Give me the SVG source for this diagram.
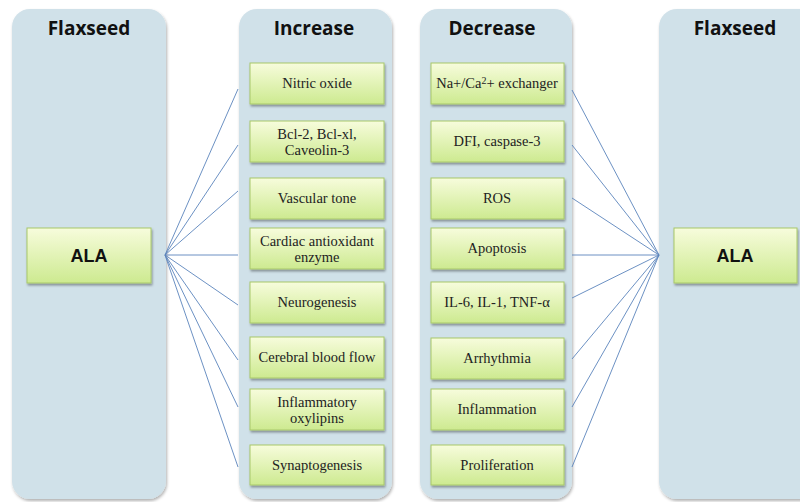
<svg xmlns="http://www.w3.org/2000/svg" width="800" height="502" viewBox="0 0 800 502">
<defs>
<linearGradient id="g" x1="0" y1="0" x2="0" y2="1">
<stop offset="0" stop-color="#F7FCDC"/>
<stop offset="1" stop-color="#CDEA90"/>
</linearGradient>
<filter id="sh" x="-10%" y="-10%" width="130%" height="130%">
<feDropShadow dx="1" dy="2" stdDeviation="1.5" flood-color="#000" flood-opacity="0.3"/>
</filter>
<filter id="sh2" x="-10%" y="-10%" width="130%" height="130%">
<feDropShadow dx="1" dy="2" stdDeviation="1" flood-color="#000" flood-opacity="0.35"/>
</filter>
</defs>
<style>
.panel{fill:#D0E1E9;filter:url(#sh)}
.box{fill:url(#g);stroke:#A8C86A;stroke-width:1;filter:url(#sh2)}
.title{font-family:"Open Sans","Liberation Sans",sans-serif;font-weight:bold;font-size:19px;fill:#111;text-anchor:middle}
.ala{font-family:"Liberation Sans",Arial,sans-serif;font-weight:bold;font-size:18px;fill:#111;text-anchor:middle}
.t{font-family:"Liberation Serif","DejaVu Serif","Times New Roman",serif;font-size:14.5px;fill:#222;text-anchor:middle}
.c{stroke:#5B84BC;stroke-width:0.9;fill:none}
</style>
<rect width="800" height="502" fill="#fff"/>
<g id="panel-left"><rect class="panel" x="12" y="9" width="154" height="490" rx="18"/><text class="title" x="89" y="35">Flaxseed</text></g>
<g id="panel-increase"><rect class="panel" x="239" y="9" width="153" height="490" rx="18"/><text class="title" x="314" y="35">Increase</text></g>
<g id="panel-decrease"><rect class="panel" x="420" y="9" width="152" height="490" rx="18"/><text class="title" x="492" y="35">Decrease</text></g>
<g id="panel-right"><rect class="panel" x="659" y="9" width="160" height="490" rx="18"/><text class="title" x="735" y="35">Flaxseed</text></g>

<g id="connectors">
<path class="c" d="M165 255L238 89M165 255L238 145M165 255L238 191M165 255L238 255M165 255L238 305M165 255L238 360M165 255L238 407M165 255L238 467"/>
<path class="c" d="M659 255L572 90M659 255L572 145M659 255L572 198M659 255L572 255M659 255L572 298M659 255L572 359M659 255L572 407M659 255L572 467"/>
</g>

<g id="ala-left"><rect class="box" x="27" y="228" width="124" height="55"/><text class="ala" x="89" y="262">ALA</text></g>
<g id="ala-right"><rect class="box" x="674" y="228" width="123" height="55"/><text class="ala" x="735" y="262">ALA</text></g>

<g id="inc-1"><rect class="box" x="250" y="63" width="134" height="41"/><text class="t" x="317" y="88">Nitric oxide</text></g>
<g id="inc-2"><rect class="box" x="250" y="121" width="134" height="41"/><text class="t" x="317" y="139">Bcl-2, Bcl-xl,</text><text class="t" x="317" y="155">Caveolin-3</text></g>
<g id="inc-3"><rect class="box" x="250" y="178" width="134" height="41"/><text class="t" x="317" y="203">Vascular tone</text></g>
<g id="inc-4"><rect class="box" x="250" y="228" width="134" height="41"/><text class="t" x="317" y="246">Cardiac antioxidant</text><text class="t" x="317" y="262">enzyme</text></g>
<g id="inc-5"><rect class="box" x="250" y="282" width="134" height="41"/><text class="t" x="317" y="307">Neurogenesis</text></g>
<g id="inc-6"><rect class="box" x="250" y="337" width="134" height="41"/><text class="t" x="317" y="362">Cerebral blood flow</text></g>
<g id="inc-7"><rect class="box" x="250" y="389" width="134" height="41"/><text class="t" x="317" y="407">Inflammatory</text><text class="t" x="317" y="423">oxylipins</text></g>
<g id="inc-8"><rect class="box" x="250" y="445" width="134" height="40"/><text class="t" x="317" y="470">Synaptogenesis</text></g>

<g id="dec-1"><rect class="box" x="431" y="63" width="133" height="41"/><text class="t" x="497" y="88">Na+/Ca<tspan font-size="10" dy="-4">2</tspan><tspan dy="4">+ exchanger</tspan></text></g>
<g id="dec-2"><rect class="box" x="431" y="121" width="133" height="41"/><text class="t" x="497" y="146">DFI, caspase-3</text></g>
<g id="dec-3"><rect class="box" x="431" y="178" width="133" height="41"/><text class="t" x="497" y="203">ROS</text></g>
<g id="dec-4"><rect class="box" x="431" y="228" width="133" height="41"/><text class="t" x="497" y="253">Apoptosis</text></g>
<g id="dec-5"><rect class="box" x="431" y="282" width="133" height="41"/><text class="t" x="497" y="307">IL-6, IL-1, TNF-α</text></g>
<g id="dec-6"><rect class="box" x="431" y="338" width="133" height="41"/><text class="t" x="497" y="363">Arrhythmia</text></g>
<g id="dec-7"><rect class="box" x="431" y="389" width="133" height="41"/><text class="t" x="497" y="414">Inflammation</text></g>
<g id="dec-8"><rect class="box" x="431" y="445" width="133" height="40"/><text class="t" x="497" y="470">Proliferation</text></g>
</svg>
